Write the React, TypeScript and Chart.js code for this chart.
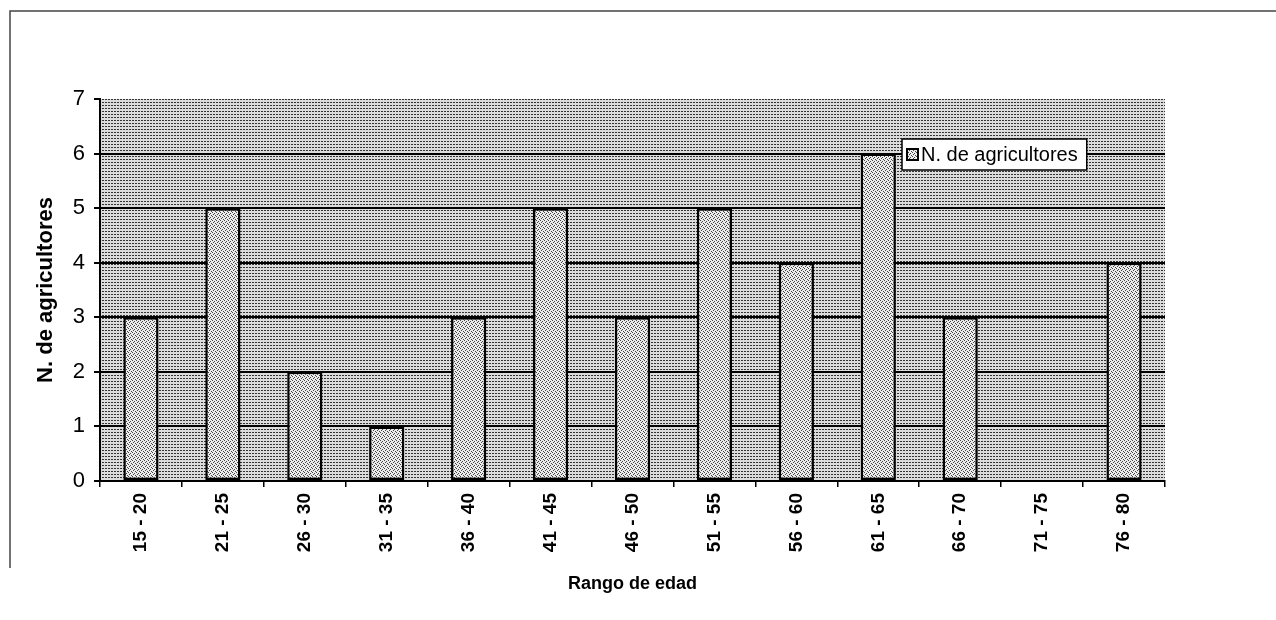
import React, { useEffect, useRef } from "react";
import { Chart, registerables } from "chart.js";

Chart.register(...registerables);

const categories = [
  "15 - 20", "21 - 25", "26 - 30", "31 - 35", "36 - 40", "41 - 45", "46 - 50",
  "51 - 55", "56 - 60", "61 - 65", "66 - 70", "71 - 75", "76 - 80",
];
const farmers = [3, 5, 2, 1, 3, 5, 3, 5, 4, 6, 3, 0, 4];
const yMin = 0;
const yMax = 7;
const yStep = 1;
const seriesLabel = "N. de agricultores";
const xTitle = "Rango de edad";
const yTitle = "N. de agricultores";

const FONT = "'Liberation Sans', Arial, sans-serif";

function makePattern(w: number, h: number, bg: string, fg: string, dots: [number, number][]) {
  const c = document.createElement("canvas");
  c.width = w;
  c.height = h;
  const g = c.getContext("2d")!;
  g.fillStyle = bg;
  g.fillRect(0, 0, w, h);
  g.fillStyle = fg;
  dots.forEach(([x, y]) => g.fillRect(x, y, 1, 1));
  return g.createPattern(c, "repeat")!;
}

export default function App() {
  const ref = useRef<HTMLCanvasElement | null>(null);

  useEffect(() => {
    if (!ref.current) return;
    const plotPattern = makePattern(3, 3, "#dcdcdc", "#333333", [[0, 0], [1, 0]]);
    const barPattern = makePattern(4, 4, "#ececec", "#444444", [[0, 0], [2, 1], [1, 2], [3, 3]]);

    const bgPlugin = {
      id: "plotBg",
      beforeDraw(chart: any) {
        const { ctx, chartArea } = chart;
        const { left, top, right, bottom } = chartArea;
        ctx.save();
        ctx.fillStyle = "#ffffff";
        ctx.fillRect(0, 0, chart.width, chart.height);
        ctx.fillStyle = plotPattern;
        ctx.fillRect(left, top, right - left, bottom - top);
        ctx.strokeStyle = "#444";
        ctx.lineWidth = 1.5;
        ctx.beginPath();
        ctx.moveTo(10, 568);
        ctx.lineTo(10, 11);
        ctx.lineTo(chart.width, 11);
        ctx.stroke();
        ctx.restore();
      },
    };

    const legendPlugin = {
      id: "innerLegend",
      afterDraw(chart: any) {
        const { ctx, chartArea } = chart;
        const label = chart.data.datasets[0].label;
        ctx.save();
        ctx.font = `20px ${FONT}`;
        const tw = ctx.measureText(label).width;
        const bx = chartArea.right - 263;
        const by = chartArea.top + 40;
        const bh = 31;
        const bw = 20 + tw + 8;
        ctx.fillStyle = "#ffffff";
        ctx.fillRect(bx, by, bw, bh);
        ctx.strokeStyle = "#000";
        ctx.lineWidth = 1.5;
        ctx.strokeRect(bx, by, bw, bh);
        ctx.fillStyle = barPattern;
        ctx.fillRect(bx + 5, by + 10, 11, 11);
        ctx.lineWidth = 2;
        ctx.strokeRect(bx + 5, by + 10, 11, 11);
        ctx.fillStyle = "#000";
        ctx.textBaseline = "middle";
        ctx.fillText(label, bx + 19, by + bh / 2 + 1);
        ctx.restore();
      },
    };

    const chart = new Chart(ref.current, {
      type: "bar",
      data: {
        labels: categories,
        datasets: [
          {
            label: seriesLabel,
            data: farmers,
            backgroundColor: barPattern,
            borderColor: "#000",
            borderWidth: 2.5,
            borderSkipped: false,
            barPercentage: 0.43,
            categoryPercentage: 1,
          },
        ],
      },
      options: {
        animation: false,
        responsive: false,
        maintainAspectRatio: false,
        layout: { padding: { top: 99, right: 111, left: 0, bottom: 0 } },
        plugins: { legend: { display: false }, tooltip: { enabled: false } },
        scales: {
          x: {
            grid: {
              display: true,
              drawOnChartArea: false,
              drawTicks: true,
              tickLength: 6,
              color: "#000",
              lineWidth: 1.5,
              offset: true,
            },
            border: { display: true, color: "#000", width: 2 },
            ticks: {
              minRotation: 90,
              maxRotation: 90,
              autoSkip: false,
              padding: 6,
              color: "#000",
              font: { family: FONT, size: 19, weight: "bold" },
            },
            title: {
              display: true,
              text: xTitle,
              color: "#000",
              align: "center",
              font: { family: FONT, size: 18, weight: "bold" },
              padding: { top: 0, bottom: 25 },
            },
            afterFit: (s: any) => {
              s.height = 139;
            },
          },
          y: {
            min: yMin,
            max: yMax,
            ticks: {
              stepSize: yStep,
              padding: 9,
              color: "#000",
              font: { family: FONT, size: 22 },
            },
            grid: {
              color: (c: any) => (c.tick && c.tick.value === yMax ? "rgba(0,0,0,0)" : "#000"),
              tickColor: "#000",
              lineWidth: 2,
              tickLength: 6,
              drawTicks: true,
            },
            border: { display: true, color: "#000", width: 2 },
            title: {
              display: true,
              text: yTitle,
              color: "#000",
              font: { family: FONT, size: 22, weight: "bold" },
              padding: { top: 33, bottom: 0 },
            },
            afterFit: (s: any) => {
              s.width = 100;
            },
          },
        },
      },
      plugins: [bgPlugin, legendPlugin],
    } as any);

    return () => chart.destroy();
  }, []);

  return (
    <div style={{ position: "fixed", left: 0, top: 0, width: 1276, height: 620 }}>
      <canvas ref={ref} width={1276} height={620} style={{ width: 1276, height: 620 }} />
    </div>
  );
}
